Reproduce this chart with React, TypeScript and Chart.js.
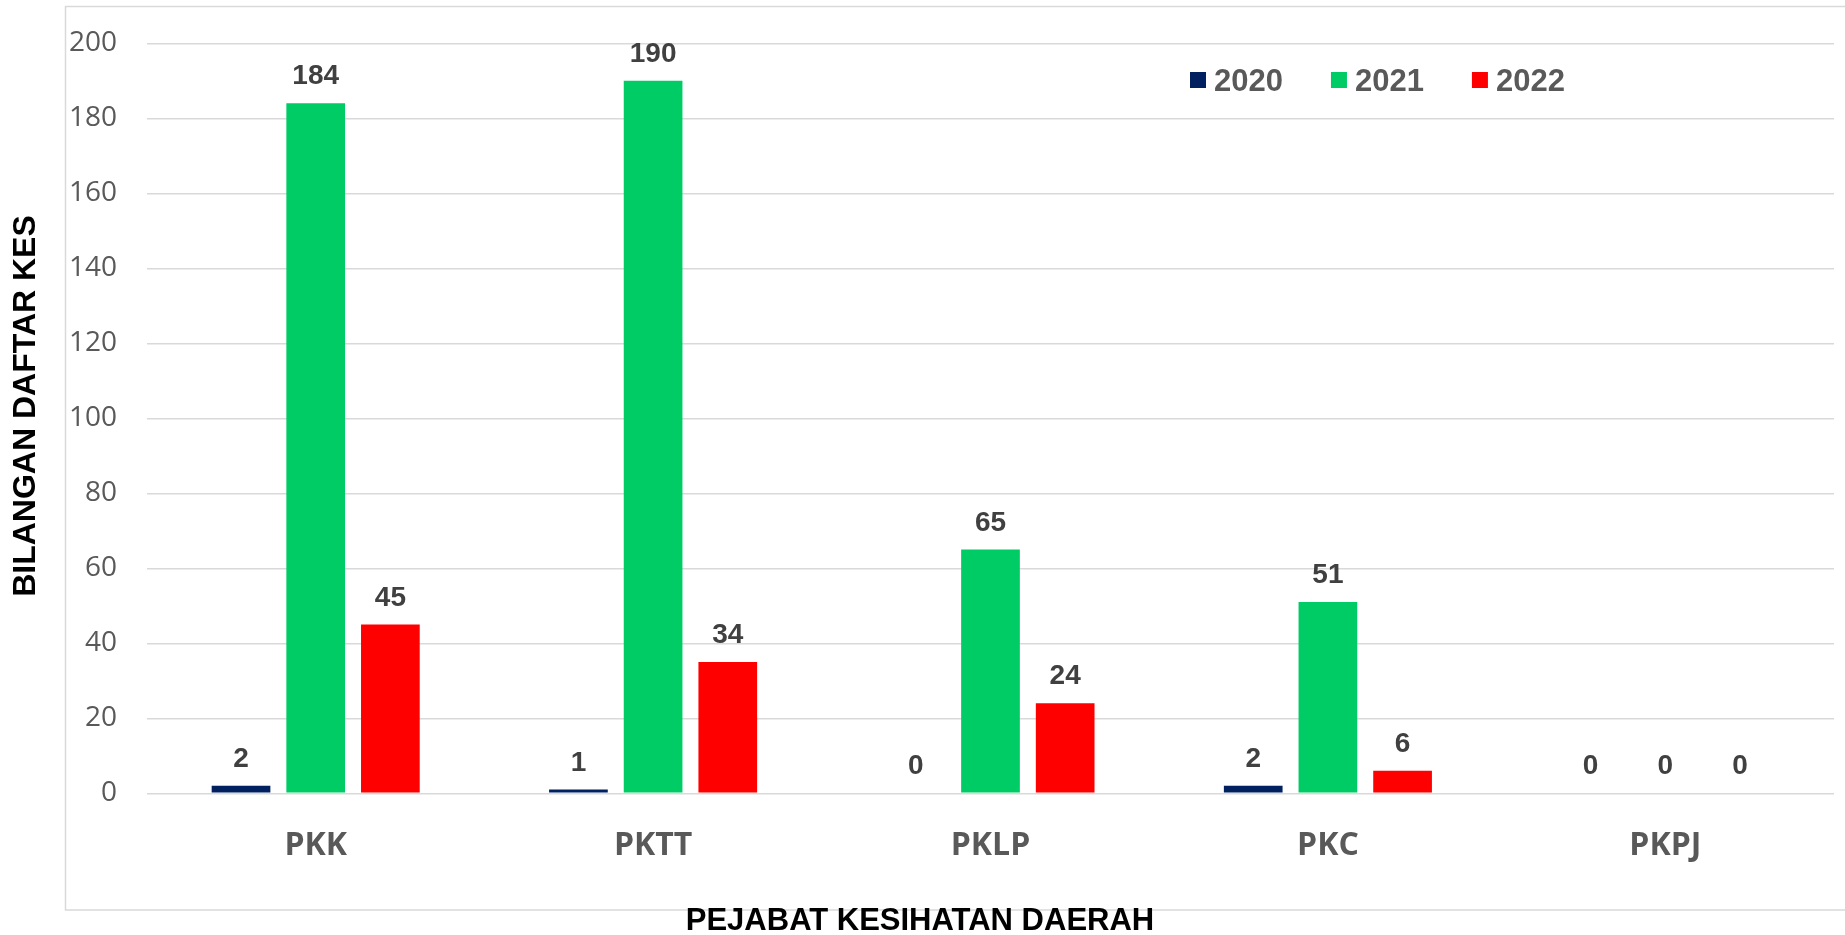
import React, { useEffect, useRef } from "react";
import { Chart, registerables } from "chart.js";

Chart.register(...registerables);

const categories = ["PKK", "PKTT", "PKLP", "PKC", "PKPJ"];
const seriesNames = ["2020", "2021", "2022"];
const values2020 = [2, 1, 0, 2, 0];
const values2021 = [184, 190, 65, 51, 0];
const values2022 = [45, 35, 24, 6, 0];
const labels2020 = ["2", "1", "0", "2", "0"];
const labels2021 = ["184", "190", "65", "51", "0"];
const labels2022 = ["45", "34", "24", "6", "0"];
const seriesColors = ["#002060", "#00CC66", "#FF0000"];
const yTitle = "BILANGAN DAFTAR KES";
const xTitle = "PEJABAT KESIHATAN DAERAH";

const W = 1845;
const H = 935;

const decorPlugin = {
  id: "decor",
  beforeDraw(chart: any) {
    const ctx = chart.ctx;
    ctx.save();
    ctx.fillStyle = "#ffffff";
    ctx.fillRect(0, 0, chart.width, chart.height);
    ctx.strokeStyle = "#d9d9d9";
    ctx.lineWidth = 1.5;
    ctx.strokeRect(65.5, 6.5, chart.width + 20, 903.5);
    ctx.restore();
  },
  afterDatasetsDraw(chart: any) {
    const ctx = chart.ctx;
    const allLabels = [labels2020, labels2021, labels2022];
    ctx.save();
    ctx.font = "bold 28px 'Liberation Sans', Arial, sans-serif";
    ctx.fillStyle = "#404040";
    ctx.textAlign = "center";
    ctx.textBaseline = "alphabetic";
    chart.data.datasets.forEach((ds: any, di: number) => {
      const meta = chart.getDatasetMeta(di);
      meta.data.forEach((el: any, i: number) => {
        ctx.fillText(allLabels[di][i], el.x, el.y - 19);
      });
    });
    ctx.restore();
  },
  afterDraw(chart: any) {
    const ctx = chart.ctx;
    ctx.save();
    // legend
    ctx.font = "bold 31px 'Liberation Sans', Arial, sans-serif";
    ctx.textBaseline = "alphabetic";
    ctx.textAlign = "left";
    let x = 1190;
    seriesNames.forEach((name, i) => {
      ctx.fillStyle = seriesColors[i];
      ctx.fillRect(x, 72, 16, 16);
      ctx.fillStyle = "#595959";
      ctx.fillText(name, x + 24, 91);
      x += 24 + ctx.measureText(name).width + 48;
    });
    // axis titles
    ctx.fillStyle = "#000000";
    ctx.font = "bold 31px 'Liberation Sans', Arial, sans-serif";
    ctx.textAlign = "center";
    ctx.fillText(xTitle, 920, 930);
    ctx.font = "bold 32px 'Liberation Sans', Arial, sans-serif";
    ctx.translate(35, 406);
    ctx.rotate(-Math.PI / 2);
    ctx.fillText(yTitle, 0, 0);
    ctx.restore();
  },
};

export default function App() {
  const ref = useRef<HTMLCanvasElement>(null);
  useEffect(() => {
    document.body.style.margin = "0";
    const canvas = ref.current!;
    const chart = new Chart(canvas, {
      type: "bar",
      data: {
        labels: categories,
        datasets: [
          { label: seriesNames[0], data: values2020, backgroundColor: seriesColors[0] },
          { label: seriesNames[1], data: values2021, backgroundColor: seriesColors[1] },
          { label: seriesNames[2], data: values2022, backgroundColor: seriesColors[2] },
        ],
      },
      options: {
        responsive: false,
        animation: false,
        devicePixelRatio: 1,
        layout: { padding: { top: 43.3, right: 11, left: 0, bottom: 0 } },
        datasets: {
          bar: { categoryPercentage: 0.664, barPercentage: 0.786, borderWidth: 0 },
        },
        plugins: {
          legend: { display: false },
          tooltip: { enabled: false },
          title: { display: false },
        },
        scales: {
          x: {
            grid: { display: false, drawTicks: false },
            border: { display: false },
            ticks: {
              color: "#595959",
              font: { family: "'Open Sans', sans-serif", size: 32, weight: "bold" },
              padding: 33,
            },
            afterFit(scale: any) {
              scale.height = 141.7;
            },
          },
          y: {
            min: 0,
            max: 200,
            grid: {
              color: "#d9d9d9",
              lineWidth: 1.5,
              drawTicks: true,
              tickLength: 30,
              tickColor: "rgba(0,0,0,0)",
            },
            border: { display: false },
            ticks: {
              stepSize: 20,
              color: "#595959",
              font: { family: "'Open Sans', sans-serif", size: 28 },
              padding: 0,
            },
            afterFit(scale: any) {
              scale.width = 147;
            },
          },
        },
      },
      plugins: [decorPlugin],
    });
    return () => chart.destroy();
  }, []);
  return (
    <div style={{ position: "fixed", left: 0, top: 0, width: W, height: H }}>
      <canvas ref={ref} width={W} height={H} style={{ width: W, height: H, display: "block" }} />
    </div>
  );
}
